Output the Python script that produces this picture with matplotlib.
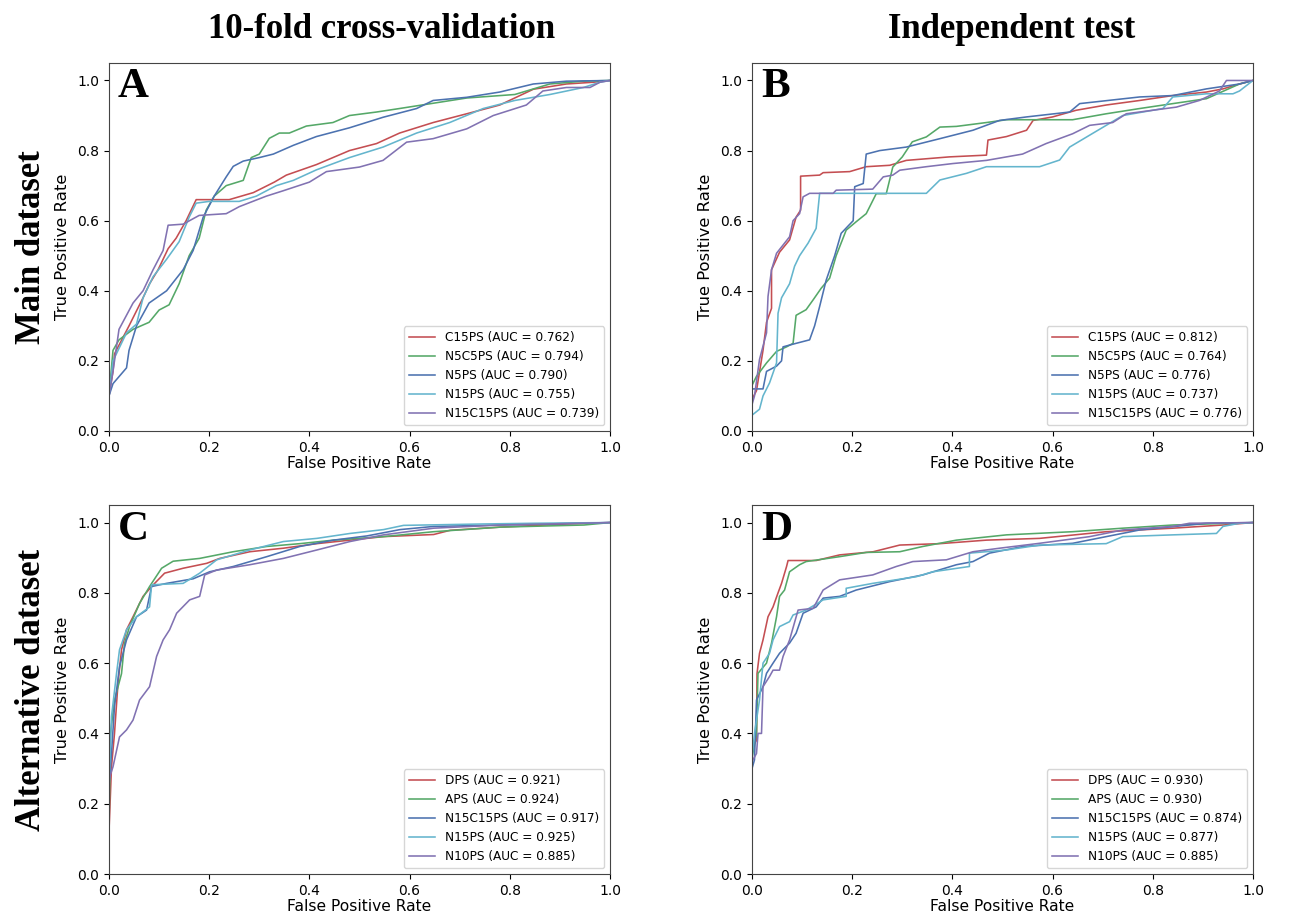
import matplotlib
matplotlib.use("Agg")
import matplotlib.pyplot as plt

# colours (old seaborn "deep" codes r, g, b, c, m)
RED, GREEN, BLUE, CYAN, PURPLE = "#C44E52", "#55A868", "#4C72B0", "#64B5CD", "#8172B2"

# ---- Panel A: main dataset, 10-fold CV ----
a_labels = ["C15PS (AUC = 0.762)", "N5C5PS (AUC = 0.794)", "N5PS (AUC = 0.790)",
            "N15PS (AUC = 0.755)", "N15C15PS (AUC = 0.739)"]
a_c15ps_x = [0, .008, .011, .04, .068, .081, .098, .118, .134, .154, .174, .24, .288, .33, .354, .414, .48, .534, .58, .647, .714, .78, .847, .913, .967, 1]
a_c15ps_y = [.1, .17, .22, .30, .38, .42, .46, .52, .55, .60, .66, .66, .68, .71, .73, .76, .80, .82, .85, .88, .905, .93, .975, .99, .995, 1]
a_n5c5ps_x = [0, .008, .02, .048, .08, .1, .12, .14, .16, .18, .194, .21, .234, .268, .284, .30, .32, .34, .36, .394, .447, .48, .534, .58, .647, .714, .81, .88, .947, 1]
a_n5c5ps_y = [.1, .23, .26, .29, .31, .345, .36, .42, .50, .55, .63, .67, .70, .715, .78, .79, .835, .85, .85, .87, .88, .90, .91, .92, .935, .95, .96, .99, .998, 1]
a_n5ps_x = [0, .008, .035, .04, .055, .08, .115, .148, .168, .188, .21, .234, .248, .268, .30, .328, .368, .414, .48, .547, .614, .647, .714, .78, .847, .913, 1]
a_n5ps_y = [.1, .135, .18, .23, .30, .365, .40, .46, .515, .61, .67, .725, .755, .77, .78, .79, .815, .84, .865, .895, .92, .943, .952, .967, .99, .998, 1]
a_n15ps_x = [0, .008, .035, .055, .068, .088, .115, .14, .16, .174, .20, .26, .294, .334, .368, .414, .48, .547, .614, .68, .747, .81, .88, .947, .98, 1]
a_n15ps_y = [.1, .2, .28, .305, .38, .44, .49, .54, .61, .65, .655, .655, .67, .70, .715, .745, .78, .81, .85, .88, .92, .943, .96, .98, .995, 1]
a_n15c15ps_x = [0, .008, .02, .048, .068, .088, .108, .118, .148, .18, .234, .26, .314, .347, .40, .434, .50, .547, .594, .647, .714, .767, .833, .866, .913, .96, .98, 1]
a_n15c15ps_y = [.1, .17, .29, .365, .40, .46, .515, .587, .59, .615, .62, .64, .67, .685, .71, .74, .753, .772, .824, .834, .862, .90, .93, .97, .98, .98, .995, 1]

# ---- Panel B: main dataset, independent test ----
b_labels = ["C15PS (AUC = 0.812)", "N5C5PS (AUC = 0.764)", "N5PS (AUC = 0.776)",
            "N15PS (AUC = 0.737)", "N15C15PS (AUC = 0.776)"]
b_c15ps_x = [0, .009, .022, .029, .039, .039, .055, .075, .088, .097, .097, .135, .142, .195, .228, .275, .308, .394, .468, .471, .508, .548, .561, .60, .647, .707, .774, .84, .907, .94, .973, 1]
b_c15ps_y = [.09, .115, .23, .31, .35, .46, .51, .545, .61, .63, .727, .73, .737, .74, .754, .758, .772, .782, .787, .83, .84, .858, .886, .896, .915, .93, .943, .957, .967, .976, .99, 1]
b_n5c5ps_x = [0, .009, .029, .049, .069, .082, .088, .108, .122, .138, .155, .168, .188, .208, .228, .248, .268, .281, .30, .32, .348, .375, .408, .468, .508, .64, .707, .774, .84, .907, .973, 1]
b_n5c5ps_y = [.13, .156, .194, .227, .24, .25, .33, .346, .374, .407, .436, .50, .573, .597, .62, .677, .677, .753, .782, .825, .839, .867, .869, .88, .888, .888, .905, .92, .934, .948, .99, 1]
b_n5ps_x = [0, .022, .029, .049, .059, .062, .088, .115, .125, .135, .148, .165, .178, .202, .205, .222, .228, .255, .308, .375, .441, .494, .548, .634, .654, .774, .84, .907, .973, 1]
b_n5ps_y = [.12, .12, .17, .185, .20, .24, .25, .26, .30, .355, .43, .50, .564, .60, .697, .706, .79, .80, .81, .834, .858, .886, .896, .91, .934, .953, .957, .976, .99, 1]
b_n15ps_x = [0, .015, .022, .035, .049, .052, .059, .075, .085, .095, .112, .128, .135, .202, .348, .375, .428, .468, .574, .614, .634, .674, .707, .74, .82, .84, .907, .96, .973, 1]
b_n15ps_y = [.045, .062, .10, .137, .194, .336, .38, .42, .47, .50, .536, .578, .678, .678, .678, .716, .735, .754, .754, .773, .81, .844, .872, .90, .92, .953, .962, .962, .97, 1]
b_n15c15ps_x = [0, .005, .015, .029, .032, .039, .049, .075, .082, .095, .102, .115, .162, .168, .241, .262, .281, .295, .348, .401, .468, .54, .587, .64, .674, .72, .747, .847, .893, .933, .947, 1]
b_n15c15ps_y = [.075, .10, .204, .28, .384, .46, .507, .554, .60, .62, .668, .678, .678, .687, .69, .725, .73, .744, .754, .763, .772, .79, .82, .848, .872, .88, .905, .924, .943, .97, 1.0, 1]

# ---- Panel C: alternative dataset, 10-fold CV ----
c_labels = ["DPS (AUC = 0.921)", "APS (AUC = 0.924)", "N15C15PS (AUC = 0.917)",
            "N15PS (AUC = 0.925)", "N10PS (AUC = 0.885)"]
c_dps_x = [0, .005, .011, .018, .025, .035, .048, .068, .085, .111, .148, .195, .221, .281, .348, .415, .481, .548, .648, .681, .781, .915, 1]
c_dps_y = [.12, .305, .40, .543, .638, .695, .732, .79, .818, .856, .87, .884, .898, .917, .927, .94, .95, .96, .966, .978, .987, .996, 1]
c_aps_x = [0, .003, .011, .025, .031, .041, .061, .081, .105, .128, .181, .248, .315, .381, .448, .548, .648, .781, .948, 1]
c_aps_y = [.13, .40, .495, .57, .656, .704, .77, .818, .87, .89, .898, .917, .932, .94, .95, .96, .974, .987, .993, 1]
c_n15c15ps_x = [0, .005, .011, .021, .035, .055, .075, .085, .115, .168, .201, .248, .315, .381, .448, .515, .581, .648, .781, 1]
c_n15c15ps_y = [.25, .343, .476, .59, .666, .732, .751, .818, .827, .84, .86, .875, .903, .932, .95, .962, .98, .989, .993, 1]
c_n15ps_x = [0, .005, .015, .021, .035, .055, .081, .085, .148, .181, .215, .281, .348, .415, .481, .548, .588, .748, .848, 1]
c_n15ps_y = [.25, .448, .57, .638, .695, .732, .76, .823, .827, .856, .894, .922, .946, .955, .969, .98, .992, .996, .998, 1]
c_n10ps_x = [0, .008, .021, .035, .048, .061, .081, .095, .108, .121, .135, .161, .181, .191, .215, .281, .348, .415, .481, .548, .648, .781, 1]
c_n10ps_y = [.27, .305, .39, .41, .438, .495, .533, .619, .666, .695, .742, .78, .79, .851, .865, .88, .898, .922, .946, .965, .984, .993, 1]

# ---- Panel D: alternative dataset, independent test ----
d_labels = ["DPS (AUC = 0.930)", "APS (AUC = 0.930)", "N15C15PS (AUC = 0.874)",
            "N15PS (AUC = 0.877)", "N10PS (AUC = 0.885)"]
d_dps_x = [0, .009, .01, .015, .022, .032, .042, .052, .059, .069, .072, .128, .175, .242, .295, .375, .468, .574, .707, .84, .94, 1]
d_dps_y = [.36, .38, .57, .628, .666, .732, .76, .80, .827, .875, .892, .892, .908, .917, .936, .94, .95, .955, .974, .984, .993, 1]
d_aps_x = [0, .009, .012, .029, .039, .049, .055, .065, .075, .095, .108, .175, .228, .295, .341, .408, .508, .64, .74, .84, 1]
d_aps_y = [.33, .40, .571, .60, .657, .732, .79, .808, .86, .88, .889, .903, .915, .917, .932, .95, .965, .974, .984, .993, 1]
d_n15c15ps_x = [0, .005, .009, .022, .029, .042, .055, .075, .088, .102, .128, .142, .175, .208, .275, .341, .408, .441, .474, .541, .64, .707, .774, .907, 1]
d_n15c15ps_y = [.30, .325, .495, .533, .571, .60, .628, .657, .685, .742, .76, .785, .79, .808, .832, .851, .88, .889, .913, .932, .941, .96, .979, .998, 1]
d_n15ps_x = [0, .005, .015, .022, .035, .042, .055, .075, .082, .108, .142, .188, .188, .241, .328, .361, .434, .434, .508, .574, .707, .74, .84, .927, .94, .973, 1]
d_n15ps_y = [.33, .40, .495, .60, .628, .666, .704, .718, .737, .751, .78, .79, .813, .827, .846, .86, .875, .913, .922, .936, .94, .96, .965, .969, .989, .998, 1]
d_n10ps_x = [0, .009, .012, .019, .022, .035, .042, .055, .062, .075, .092, .122, .142, .175, .241, .288, .321, .388, .441, .494, .574, .674, .74, .84, .873, 1]
d_n10ps_y = [.32, .343, .40, .40, .533, .562, .58, .58, .619, .666, .751, .756, .808, .837, .851, .875, .889, .894, .917, .927, .941, .96, .979, .989, .998, 1]

colors = [RED, GREEN, BLUE, CYAN, PURPLE]
panels = [
    ("A", [0.0839, 0.529, 0.3857, 0.4022], a_labels,
     [(a_c15ps_x, a_c15ps_y), (a_n5c5ps_x, a_n5c5ps_y), (a_n5ps_x, a_n5ps_y),
      (a_n15ps_x, a_n15ps_y), (a_n15c15ps_x, a_n15c15ps_y)]),
    ("B", [0.5789, 0.529, 0.3857, 0.4022], b_labels,
     [(b_c15ps_x, b_c15ps_y), (b_n5c5ps_x, b_n5c5ps_y), (b_n5ps_x, b_n5ps_y),
      (b_n15ps_x, b_n15ps_y), (b_n15c15ps_x, b_n15c15ps_y)]),
    ("C", [0.0839, 0.0448, 0.3857, 0.4033], c_labels,
     [(c_dps_x, c_dps_y), (c_aps_x, c_aps_y), (c_n15c15ps_x, c_n15c15ps_y),
      (c_n15ps_x, c_n15ps_y), (c_n10ps_x, c_n10ps_y)]),
    ("D", [0.5789, 0.0448, 0.3857, 0.4033], d_labels,
     [(d_dps_x, d_dps_y), (d_aps_x, d_aps_y), (d_n15c15ps_x, d_n15c15ps_y),
      (d_n15ps_x, d_n15ps_y), (d_n10ps_x, d_n10ps_y)]),
]

fig = plt.figure(figsize=(12.99, 9.15), dpi=100)
serif = ["Liberation Serif", "DejaVu Serif"]

for letter, rect, labels, curves in panels:
    ax = fig.add_axes(rect)
    for (x, y), lab, col in zip(curves, labels, colors):
        ax.plot(x, y, color=col, lw=1.15, label=lab)
    ax.set_xlim(0, 1)
    ax.set_ylim(0, 1.05)
    ax.set_xticks([0, 0.2, 0.4, 0.6, 0.8, 1.0])
    ax.set_yticks([0, 0.2, 0.4, 0.6, 0.8, 1.0])
    ax.tick_params(labelsize=10)
    ax.set_xlabel("False Positive Rate", fontsize=11.2, labelpad=1)
    ax.set_ylabel("True Positive Rate", fontsize=11.8, labelpad=5)
    for s in ax.spines.values():
        s.set_color("#444444")
    ax.legend(loc="lower right", fontsize=8.7, handlelength=2.2)
    ax.text(0.018, 0.985, letter, transform=ax.transAxes, va="top", ha="left",
            fontsize=31, fontweight="bold", family=serif)

# column titles
fig.text(0.294, 0.968, "10-fold cross-validation", ha="center", va="center",
         fontsize=25, fontweight="bold", family=serif)
fig.text(0.779, 0.968, "Independent test", ha="center", va="center",
         fontsize=25, fontweight="bold", family=serif)
# row titles
fig.text(0.024, 0.730, "Main dataset", ha="center", va="center", rotation=90,
         fontsize=25, fontweight="bold", family=serif)
fig.text(0.024, 0.246, "Alternative dataset", ha="center", va="center", rotation=90,
         fontsize=25, fontweight="bold", family=serif)

plt.savefig("out.png", dpi=100)
